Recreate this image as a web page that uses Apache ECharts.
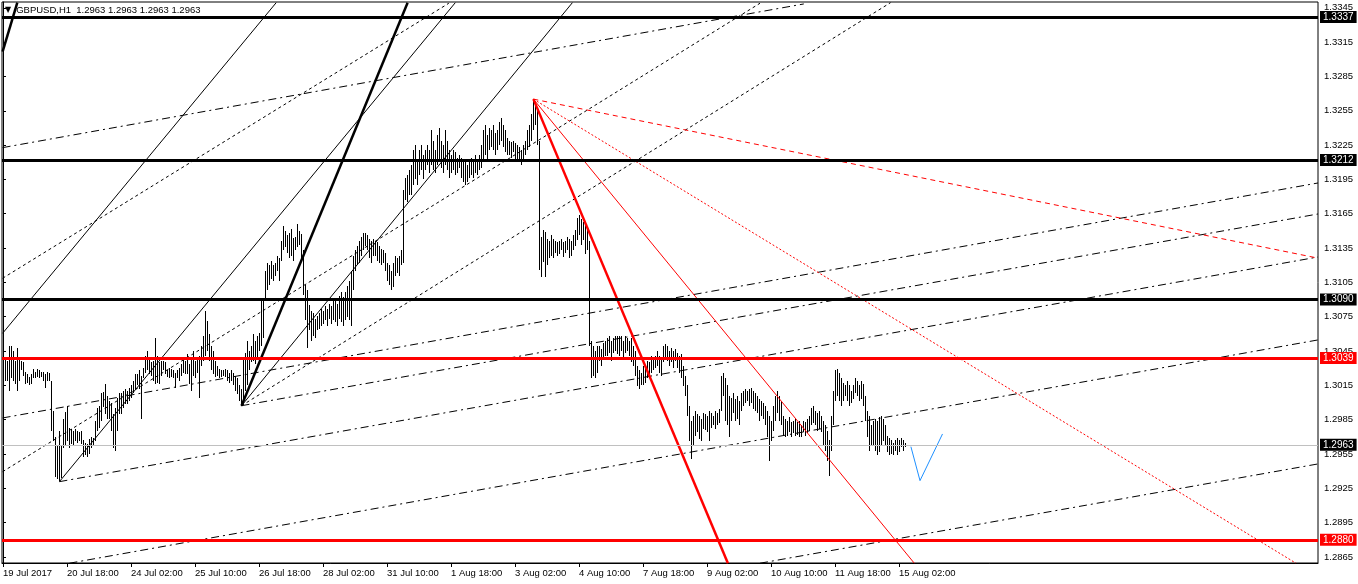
<!DOCTYPE html>
<html><head><meta charset="utf-8">
<script src="https://cdn.jsdelivr.net/npm/echarts@6/dist/echarts.min.js"></script>
<style>html,body{margin:0;padding:0;background:#fff}#c{width:1358px;height:584px}</style>
</head><body><div id="c"></div>
<script>
// ---------- DATA ----------
const xLabels = ['19 Jul 2017','20 Jul 18:00','24 Jul 02:00','25 Jul 10:00','26 Jul 18:00','28 Jul 02:00','31 Jul 10:00','1 Aug 18:00','3 Aug 02:00','4 Aug 10:00','7 Aug 18:00','9 Aug 02:00','10 Aug 10:00','11 Aug 18:00','15 Aug 02:00'];
const xLabelStep = 32; // bars between time labels
const yTicks = [1.2865,1.2895,1.2925,1.2955,1.2985,1.3015,1.3045,1.3075,1.3105,1.3135,1.3165,1.3195,1.3225,1.3255,1.3285,1.3315,1.3345];
const header = 'GBPUSD,H1  1.2963 1.2963 1.2963 1.2963';

const highs = [
1.3047,1.3038,1.3036,1.3049,1.3049,1.3045,1.3036,1.3048,1.3039,1.3036,
1.3035,1.3027,1.3025,1.3022,1.3025,1.3029,1.3027,1.3029,1.3028,1.3027,
1.3027,1.3025,1.3027,1.3026,1.3019,1.2993,1.2970,1.2962,1.2975,1.2962,
1.2986,1.2992,1.2997,1.2978,1.2977,1.2975,1.2977,1.2975,1.2974,1.2975,
1.2967,1.2965,1.2964,1.2968,1.2970,1.2969,1.2984,1.2995,1.2997,1.3008,
1.3009,1.3016,1.3006,1.3001,1.3000,1.2990,1.2995,1.3004,1.3008,1.3008,
1.3010,1.3012,1.3010,1.3013,1.3015,1.3019,1.3025,1.3025,1.3028,1.3023,
1.3030,1.3041,1.3045,1.3039,1.3035,1.3036,1.3056,1.3041,1.3035,1.3036,
1.3036,1.3035,1.3028,1.3030,1.3029,1.3028,1.3026,1.3028,1.3030,1.3034,
1.3039,1.3036,1.3042,1.3034,1.3039,1.3045,1.3036,1.3039,1.3041,1.3049,
1.3058,1.3080,1.3071,1.3060,1.3049,1.3045,1.3036,1.3032,1.3029,1.3028,
1.3028,1.3029,1.3028,1.3026,1.3028,1.3026,1.3023,1.3021,1.3015,1.3012,
1.3039,1.3043,1.3054,1.3045,1.3049,1.3060,1.3054,1.3058,1.3061,1.3089,
1.3091,1.3115,1.3122,1.3120,1.3124,1.3120,1.3122,1.3128,1.3126,1.3141,
1.3154,1.3150,1.3146,1.3148,1.3152,1.3144,1.3145,1.3156,1.3150,1.3147,
1.3133,1.3103,1.3098,1.3085,1.3080,1.3078,1.3073,1.3076,1.3078,1.3082,
1.3080,1.3084,1.3082,1.3086,1.3084,1.3089,1.3090,1.3086,1.3093,1.3097,
1.3092,1.3097,1.3102,1.3106,1.3115,1.3128,1.3133,1.3137,1.3141,1.3145,
1.3148,1.3148,1.3146,1.3143,1.3141,1.3143,1.3141,1.3140,1.3137,1.3134,
1.3133,1.3131,1.3122,1.3120,1.3115,1.3122,1.3128,1.3126,1.3128,1.3133,
1.3186,1.3196,1.3199,1.3203,1.3208,1.3221,1.3225,1.3212,1.3221,1.3225,
1.3216,1.3221,1.3225,1.3221,1.3238,1.3229,1.3221,1.3234,1.3240,1.3229,
1.3225,1.3238,1.3229,1.3221,1.3216,1.3221,1.3219,1.3214,1.3216,1.3214,
1.3212,1.3210,1.3208,1.3212,1.3214,1.3210,1.3216,1.3212,1.3216,1.3225,
1.3238,1.3243,1.3234,1.3240,1.3238,1.3243,1.3236,1.3238,1.3245,1.3249,
1.3243,1.3238,1.3231,1.3229,1.3228,1.3229,1.3227,1.3225,1.3223,1.3221,
1.3225,1.3229,1.3238,1.3243,1.3252,1.3265,1.3260,1.3256,1.3229,1.3145,
1.3151,1.3149,1.3143,1.3141,1.3146,1.3143,1.3141,1.3140,1.3141,1.3143,
1.3140,1.3141,1.3145,1.3143,1.3141,1.3146,1.3151,1.3161,1.3164,1.3160,
1.3158,1.3155,1.3151,1.3141,1.3054,1.3049,1.3045,1.3049,1.3049,1.3047,
1.3052,1.3054,1.3056,1.3058,1.3054,1.3056,1.3058,1.3058,1.3058,1.3058,
1.3054,1.3058,1.3056,1.3054,1.3056,1.3049,1.3045,1.3032,1.3028,1.3026,
1.3032,1.3030,1.3036,1.3035,1.3041,1.3039,1.3041,1.3045,1.3041,1.3038,
1.3049,1.3051,1.3049,1.3045,1.3048,1.3045,1.3047,1.3043,1.3041,1.3042,
1.3032,1.3023,1.3015,1.2997,1.2984,1.2988,1.2993,1.2990,1.2988,1.2986,
1.2991,1.2990,1.2988,1.2993,1.2991,1.2988,1.2993,1.2991,1.2994,1.3023,
1.3026,1.3021,1.3015,1.3006,1.3004,1.3008,1.3003,1.3006,1.3001,1.3008,
1.3010,1.3012,1.3010,1.3012,1.3013,1.3010,1.3008,1.3006,1.3003,1.3001,
1.3000,1.2997,1.2993,1.2988,1.2984,1.2997,1.3006,1.3010,1.3006,1.3001,
1.2988,1.2986,1.2984,1.2987,1.2983,1.2984,1.2986,1.2983,1.2984,1.2980,
1.2984,1.2983,1.2986,1.2988,1.2995,1.2997,1.2993,1.2991,1.2993,1.2988,
1.2984,1.2980,1.2975,1.2967,1.2988,1.3010,1.3028,1.3029,1.3026,1.3021,
1.3017,1.3015,1.3019,1.3015,1.3010,1.3015,1.3021,1.3019,1.3015,1.3019,
1.3016,1.3006,1.2993,1.2988,1.2980,1.2984,1.2986,1.2984,1.2987,1.2988,
1.2986,1.2980,1.2971,1.2969,1.2967,1.2965,1.2967,1.2969,1.2967,1.2969,
1.2967,1.2965];

const lows = [
1.3007,1.3019,1.3019,1.3010,1.3021,1.3019,1.3016,1.3010,1.3019,1.3028,
1.3023,1.3016,1.3017,1.3015,1.3016,1.3021,1.3021,1.3022,1.3021,1.3022,
1.3019,1.3013,1.3019,1.3019,1.2975,1.2966,1.2935,1.2933,1.2931,1.2934,
1.2960,1.2963,1.2966,1.2960,1.2964,1.2962,1.2966,1.2965,1.2966,1.2964,
1.2952,1.2954,1.2952,1.2955,1.2960,1.2962,1.2966,1.2975,1.2978,1.2984,
1.2996,1.2990,1.2986,1.2986,1.2975,1.2960,1.2958,1.2975,1.2990,1.2990,
1.2995,1.2999,1.2999,1.3001,1.3004,1.3008,1.3012,1.3015,1.3012,1.2986,
1.3021,1.3026,1.3028,1.3025,1.3023,1.3019,1.3016,1.3017,1.3016,1.3023,
1.3028,1.3025,1.3022,1.3021,1.3022,1.3021,1.3013,1.3021,1.3019,1.3023,
1.3026,1.3025,1.3025,1.3016,1.3010,1.3023,1.3021,1.3026,1.3004,1.3032,
1.3036,1.3041,1.3045,1.3036,1.3028,1.3025,1.3022,1.3023,1.3021,1.3022,
1.3023,1.3022,1.3019,1.3017,1.3019,1.3015,1.3010,1.3007,1.3001,1.2997,
1.3001,1.3010,1.3015,1.3028,1.3035,1.3036,1.3034,1.3039,1.3045,1.3049,
1.3056,1.3089,1.3098,1.3103,1.3108,1.3106,1.3111,1.3115,1.3106,1.3124,
1.3133,1.3136,1.3131,1.3126,1.3128,1.3124,1.3133,1.3136,1.3138,1.3124,
1.3094,1.3072,1.3048,1.3063,1.3054,1.3058,1.3056,1.3063,1.3064,1.3067,
1.3069,1.3072,1.3067,1.3073,1.3069,1.3072,1.3070,1.3067,1.3073,1.3070,
1.3067,1.3072,1.3075,1.3072,1.3067,1.3098,1.3115,1.3120,1.3122,1.3128,
1.3133,1.3137,1.3133,1.3126,1.3122,1.3128,1.3128,1.3124,1.3122,1.3120,
1.3122,1.3115,1.3106,1.3103,1.3098,1.3101,1.3111,1.3113,1.3111,1.3120,
1.3122,1.3177,1.3175,1.3181,1.3181,1.3190,1.3195,1.3190,1.3199,1.3203,
1.3195,1.3203,1.3208,1.3201,1.3208,1.3203,1.3201,1.3208,1.3212,1.3205,
1.3201,1.3208,1.3203,1.3196,1.3201,1.3203,1.3199,1.3201,1.3205,1.3196,
1.3193,1.3190,1.3193,1.3196,1.3199,1.3196,1.3201,1.3199,1.3203,1.3205,
1.3212,1.3216,1.3210,1.3221,1.3223,1.3221,1.3216,1.3221,1.3225,1.3229,
1.3223,1.3219,1.3216,1.3216,1.3214,1.3219,1.3213,1.3212,1.3210,1.3208,
1.3212,1.3216,1.3221,1.3223,1.3229,1.3238,1.3243,1.3225,1.3116,1.3110,
1.3123,1.3110,1.3120,1.3126,1.3128,1.3126,1.3131,1.3128,1.3130,1.3133,
1.3127,1.3131,1.3133,1.3126,1.3128,1.3133,1.3137,1.3142,1.3146,1.3138,
1.3142,1.3130,1.3133,1.3049,1.3021,1.3023,1.3021,1.3026,1.3036,1.3032,
1.3038,1.3041,1.3041,1.3043,1.3036,1.3043,1.3045,1.3042,1.3041,1.3045,
1.3038,1.3043,1.3045,1.3041,1.3035,1.3032,1.3023,1.3014,1.3012,1.3015,
1.3015,1.3017,1.3021,1.3023,1.3026,1.3028,1.3030,1.3032,1.3026,1.3023,
1.3035,1.3038,1.3036,1.3032,1.3035,1.3030,1.3036,1.3030,1.3026,1.3021,
1.3014,1.3006,1.2988,1.2966,1.2951,1.2962,1.2971,1.2974,1.2968,1.2966,
1.2977,1.2976,1.2974,1.2966,1.2978,1.2980,1.2977,1.2980,1.2982,1.2993,
1.3006,1.2984,1.2980,1.2970,1.2984,1.2991,1.2984,1.2986,1.2980,1.2993,
1.2997,1.3000,1.3001,1.2997,1.3000,1.2994,1.2993,1.2991,1.2984,1.2988,
1.2986,1.2980,1.2970,1.2949,1.2966,1.2975,1.2984,1.2991,1.2984,1.2980,
1.2971,1.2970,1.2971,1.2974,1.2970,1.2973,1.2971,1.2972,1.2970,1.2970,
1.2974,1.2971,1.2973,1.2975,1.2980,1.2982,1.2980,1.2975,1.2977,1.2974,
1.2962,1.2958,1.2949,1.2936,1.2958,1.2980,1.3001,1.3006,1.3001,1.2997,
1.3001,1.3006,1.3001,1.2997,1.3000,1.3003,1.3008,1.3006,1.3001,1.3003,
1.2997,1.2984,1.2970,1.2958,1.2962,1.2962,1.2958,1.2954,1.2957,1.2962,
1.2966,1.2962,1.2957,1.2954,1.2955,1.2954,1.2958,1.2954,1.2957,1.2961,
1.2958,1.2961];

// horizontal price levels
const blackLevels = [1.3337, 1.3212, 1.3090];
const redLevels = [1.3039, 1.2880];
const currentPrice = 1.2963;

// trend lines: [[barIndex, price], [barIndex, price]]
const thinBlackLines = [
  [[-0.2, 1.30605], [136.6, 1.33495]],
  [[28.2, 1.29308], [226.15, 1.33495]],
  [[119.25, 1.29972], [284.7, 1.33495]]
];
const thickBlackLines = [
  [[119.25, 1.29972], [202.3, 1.33495]],
  [[-0.2, 1.33067], [7.15, 1.33495]]
];
const shortDashLines = [
  [[-0.2, 1.31086], [222.9, 1.33490]],
  [[119.25, 1.29972], [443.75, 1.33495]],
  [[-0.2, 1.29395], [378.5, 1.33490]]
];
const dashDotLines = [
  [[-0.2, 1.32228], [400.4, 1.33484]],
  [[-0.2, 1.29865], [657.5, 1.31919]],
  [[119.25, 1.29972], [657.5, 1.31648]],
  [[28.2, 1.29308], [657.5, 1.31272]],
  [[33.2, 1.28595], [657.5, 1.30547]],
  [[378.5, 1.28595], [657.5, 1.29463]]
];
const redThickLines = [[[265.2, 1.32652], [362.45, 1.28595]]];
const redThinLines  = [[[265.2, 1.32652], [455.65, 1.28595]]];
const redDotLines   = [[[265.2, 1.32652], [646.5, 1.28595]]];
const redDashLines  = [[[265.2, 1.32652], [657.75, 1.31261]]];
const bluePath = [[453.95, 1.29614], [458.5, 1.29317], [469.75, 1.29725]];

// ---------- CHART ----------
const FONT = 'Liberation Sans, Arial, sans-serif';
const chart = echarts.init(document.getElementById('c'), null, {renderer: 'canvas'});
const bars = highs.map((h, i) => [i, h, lows[i]]);

function lineSeries(list, style) {
  return list.map(pts => ({
    type: 'line', data: pts, symbol: 'none', silent: true, animation: false,
    clip: true, z: 3, lineStyle: style
  }));
}
function levelLabel(bg) {
  return {show: true, position: 'end', distance: 2, formatter: p => Number(p.value).toFixed(4),
    backgroundColor: bg, color: '#fff', padding: [1, 3, 1, 3], fontSize: 10, fontFamily: FONT, lineHeight: 10};
}

const markData = [];
blackLevels.forEach(v => markData.push({yAxis: v, lineStyle: {color: '#000', width: 3, type: 'solid'}, label: levelLabel('#000')}));
redLevels.forEach(v => markData.push({yAxis: v, lineStyle: {color: '#ff0000', width: 3, type: 'solid'}, label: levelLabel('#ff0000')}));
markData.push({yAxis: currentPrice, lineStyle: {color: '#c0c0c0', width: 1, type: 'solid'}, label: levelLabel('#000')});

const series = [
  {
    type: 'custom', data: bars, z: 1, silent: true, animation: false,
    encode: {x: 0, y: [1, 2]},
    renderItem: (params, api) => {
      const x = api.value(0);
      const top = api.coord([x, api.value(1)]);
      const bot = api.coord([x, api.value(2)]);
      return {type: 'rect', shape: {x: Math.round(top[0]), y: Math.round(top[1]), width: 1,
        height: Math.max(1, Math.round(bot[1]) - Math.round(top[1]))}, style: {fill: '#000'}};
    },
    markLine: {symbol: 'none', silent: true, animation: false, precision: 4, z: 4, data: markData}
  },
  ...lineSeries(thinBlackLines, {color: '#000', width: 1}),
  ...lineSeries(thickBlackLines, {color: '#000', width: 2.5}),
  ...lineSeries(shortDashLines, {color: '#000', width: 1, type: [3, 3]}),
  ...lineSeries(dashDotLines, {color: '#000', width: 1, type: [8, 4, 2, 4]}),
  ...lineSeries(redThickLines, {color: '#ff0000', width: 2.5}),
  ...lineSeries(redThinLines, {color: '#ff0000', width: 1}),
  ...lineSeries(redDotLines, {color: '#ff0000', width: 1, type: [2, 2]}),
  ...lineSeries(redDashLines, {color: '#ff0000', width: 1, type: [5, 4]}),
  ...lineSeries([bluePath], {color: '#1e90ff', width: 1})
];

chart.setOption({
  animation: false,
  backgroundColor: '#fff',
  title: {
    text: '{t|▼} {h|' + header + '}', left: 5, top: 4, padding: 0,
    textStyle: {fontWeight: 'normal', color: '#000', fontFamily: FONT, lineHeight: 12,
      rich: {t: {fontSize: 8, color: '#000', fontFamily: 'DejaVu Sans', lineHeight: 12},
             h: {fontSize: 9.5, color: '#000', fontFamily: FONT, lineHeight: 12}}}
  },
  grid: {left: 2, right: 40, top: 2, bottom: 21, show: true, borderColor: '#000', borderWidth: 1, backgroundColor: '#fff'},
  xAxis: {
    type: 'value', min: -0.5, max: 657.5, position: 'bottom',
    axisLine: {show: true, lineStyle: {color: '#000', width: 1}},
    axisTick: {show: true, length: 4, inside: false, lineStyle: {color: '#000'},
      customValues: xLabels.map((_, k) => k * xLabelStep)},
    axisLabel: {show: true, margin: 5, color: '#000', fontSize: 9.5, fontFamily: FONT, align: 'left',
      customValues: xLabels.map((_, k) => k * xLabelStep),
      formatter: v => xLabels[Math.round(v / xLabelStep)] || ''},
    splitLine: {show: false}
  },
  yAxis: {
    type: 'value', position: 'right', min: 1.28597, max: 1.33501, scale: true,
    axisLine: {show: true, lineStyle: {color: '#000', width: 1}},
    axisTick: {show: true, length: 3, inside: false, lineStyle: {color: '#000'}, customValues: yTicks},
    axisLabel: {show: true, margin: 6, color: '#000', fontSize: 9.5, fontFamily: FONT,
      customValues: yTicks, formatter: v => v.toFixed(4)},
    splitLine: {show: false}
  },
  series: series
});
</script>
</body></html>
